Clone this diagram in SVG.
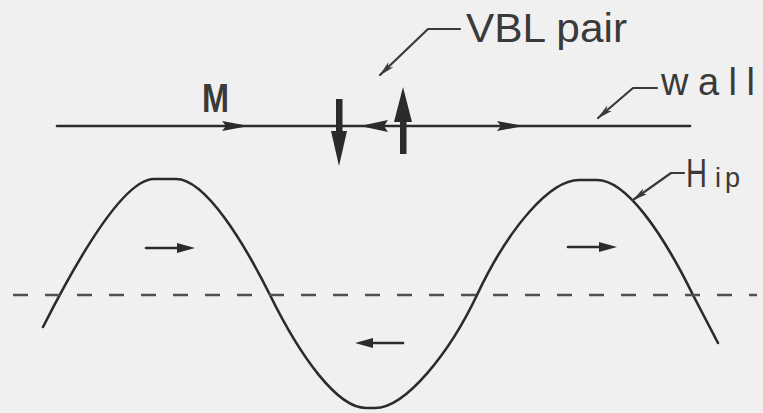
<svg xmlns="http://www.w3.org/2000/svg" width="763" height="413" viewBox="0 0 763 413">
<style>
.bg{fill:#f1f0f0}
.ln{fill:none;stroke:#2b2b2b;stroke-width:2.6;stroke-linecap:round;stroke-linejoin:round}
.ld{fill:none;stroke:#3a3a3a;stroke-width:2.2;stroke-linecap:round;stroke-linejoin:round}
.dash{fill:none;stroke:#505050;stroke-width:2.6;stroke-dasharray:15 17}
.hd{fill:#2b2b2b;stroke:none}
.t{font-family:"Liberation Sans",Arial,sans-serif;fill:#3a3a3a}
</style>
<defs>
<marker id="lead" viewBox="0 0 16 8" refX="15" refY="4" markerWidth="16" markerHeight="8" markerUnits="userSpaceOnUse" orient="auto">
<path d="M0,0.5 L16,4 L0,7.5 L4,4 Z" fill="#3a3a3a"/>
</marker>
</defs>
<rect class="bg" x="0" y="0" width="763" height="413"/>

<g id="wall">
<line class="ln" x1="57" y1="126" x2="690" y2="126"/>
<polygon class="hd" points="222,121 249,126 222,131 226,126"/>
<polygon class="hd" points="388,120 360,126 388,132 384,126"/>
<polygon class="hd" points="497,121 524,126 497,131 501,126"/>
</g>

<g id="vbl-down">
<rect class="hd" x="336" y="99" width="6.5" height="34"/>
<polygon class="hd" points="331,131 347,131 339,166"/>
</g>

<g id="vbl-up">
<rect class="hd" x="400" y="120" width="6.5" height="34"/>
<polygon class="hd" points="394,122 412,122 403,87"/>
</g>

<g id="label-M"><text class="t" x="202" y="112" font-size="40" font-weight="bold" textLength="27" lengthAdjust="spacingAndGlyphs">M</text></g>
<g id="label-vbl"><text class="t" x="466" y="42" font-size="40" textLength="161" lengthAdjust="spacingAndGlyphs">VBL pair</text></g>
<g id="label-wall"><text class="t" x="661" y="95" font-size="38" textLength="94" lengthAdjust="spacing">wall</text></g>
<g id="label-hip"><text class="t" x="686" y="187" font-size="40" textLength="21" lengthAdjust="spacingAndGlyphs">H</text><text class="t" x="715" y="187" font-size="27" textLength="25" lengthAdjust="spacing">ip</text></g>

<g id="hip-curve">
<path class="ln" d="M43,327 C78,258 124,179 154,179 L176,179 C206,179 245,245 270,295 C300,356 337,408 366,408 L375,408 C406,408 450,352 477,295 C510,225 551,180 579,180 L597,180 C626,180 662,232 693,295 L718,343"/>
<line class="dash" x1="13" y1="295" x2="757" y2="295"/>
</g>

<g id="field-arrows">
<line class="ln" x1="146" y1="248" x2="180" y2="248" stroke-width="3.5"/>
<polygon class="hd" points="177,243 195,248 177,253"/>
<line class="ln" x1="372" y1="343" x2="403" y2="343" stroke-width="3.5"/>
<polygon class="hd" points="373,338 355,343 373,348"/>
<line class="ln" x1="568" y1="247" x2="602" y2="247" stroke-width="3.5"/>
<polygon class="hd" points="599,242 617,247 599,252"/>
</g>

<g id="connectors">
<polyline class="ld" points="460,29 428,29 380,75" marker-end="url(#lead)"/>
<polyline class="ld" points="657,88 633,88 598,118" marker-end="url(#lead)"/>
<polyline class="ld" points="684,173 671,173 633,200" marker-end="url(#lead)"/>
</g>
</svg>
